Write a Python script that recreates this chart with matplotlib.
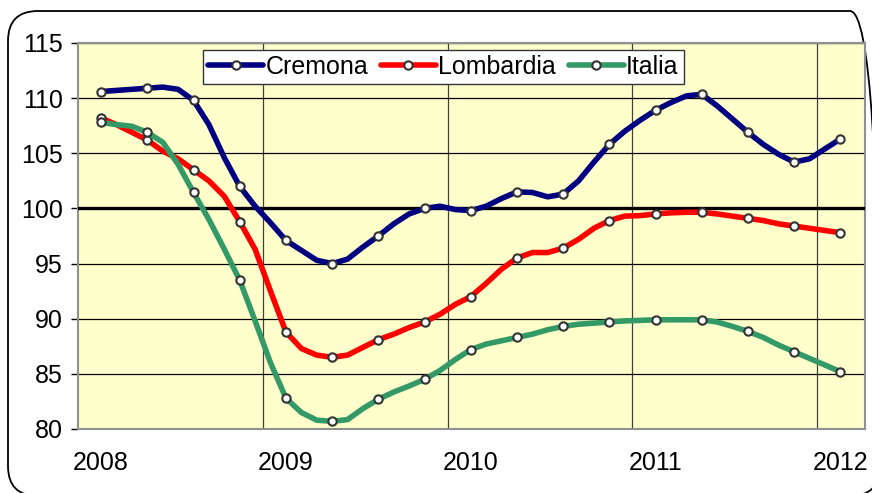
import numpy as np
import matplotlib
matplotlib.use("Agg")
import matplotlib.pyplot as plt
from matplotlib.patches import FancyBboxPatch

# ── data (monthly index, Jan 2008 .. Jan 2012; markers every quarter) ─────────
years = ["2008", "2009", "2010", "2011", "2012"]

cremona = [110.6, 110.7, 110.8, 110.9, 111.0, 110.8, 109.8, 107.6, 104.6, 102.0,
           100.2, 98.7, 97.1, 96.2, 95.3, 95.0, 95.4, 96.5, 97.5, 98.6,
           99.5, 100.0, 100.2, 99.9, 99.8, 100.2, 100.9, 101.5, 101.45, 101.05,
           101.3, 102.5, 104.2, 105.8, 107.0, 108.0, 108.9, 109.6, 110.2, 110.35,
           109.3, 108.1, 106.9, 105.8, 104.9, 104.2, 104.5, 105.4, 106.3]

lombardia = [108.2, 107.6, 106.9, 106.2, 105.2, 104.5, 103.5, 102.5, 101.1, 98.8,
             96.3, 92.5, 88.8, 87.3, 86.7, 86.5, 86.7, 87.4, 88.1, 88.6,
             89.2, 89.7, 90.4, 91.3, 92.0, 93.2, 94.5, 95.5, 96.0, 96.0,
             96.4, 97.2, 98.2, 98.9, 99.3, 99.35, 99.5, 99.6, 99.65, 99.65,
             99.5, 99.3, 99.1, 98.9, 98.6, 98.4, 98.2, 98.0, 97.8]

italia = [107.8, 107.6, 107.45, 106.9, 106.0, 104.0, 101.45, 99.0, 96.3, 93.5,
          89.8, 86.0, 82.8, 81.5, 80.8, 80.7, 80.85, 81.85, 82.7, 83.35,
          83.9, 84.5, 85.3, 86.3, 87.2, 87.7, 88.0, 88.3, 88.6, 89.0,
          89.3, 89.5, 89.6, 89.7, 89.8, 89.85, 89.9, 89.9, 89.9, 89.9,
          89.7, 89.3, 88.85, 88.3, 87.6, 87.0, 86.4, 85.8, 85.2]

SERIES = [
    ("Cremona", cremona, "#000080"),
    ("Lombardia", lombardia, "#FF0000"),
    ("Italia", italia, "#339966"),
]

months = np.arange(len(cremona))

# ── figure ───────────────────────────────────────────────────────────────────
fig = plt.figure(figsize=(8.72, 4.93), dpi=100)
fig.patch.set_facecolor("white")
plt.rcParams["font.family"] = ["Liberation Sans", "DejaVu Sans"]

# outer rounded frame (partly cut by the image edge, as in the original)
frame = FancyBboxPatch((0.08, -0.03), 8.72, 4.85,
                       boxstyle="round,pad=0,rounding_size=0.3",
                       transform=fig.dpi_scale_trans,
                       fc="none", ec="black", lw=1.3, zorder=0)
fig.add_artist(frame)

ax = fig.add_axes([78 / 872, 1 - 429 / 493, (865 - 78) / 872, (429 - 43) / 493])
ax.set_facecolor("#FFFFCC")

for name, vals, col in SERIES:
    ax.plot(months, vals, color=col, lw=4.0, label=name,
            solid_joinstyle="round", solid_capstyle="round",
            marker="o", markevery=3, markersize=6,
            markerfacecolor="white", markeredgecolor="#333333",
            markeredgewidth=1.5, zorder=4)

ax.axhline(100, color="black", lw=2.4, zorder=3)

# axes
ax.set_xlim(-1.5, 49.6)
ax.set_ylim(80, 115)
ax.set_yticks(np.arange(80, 116, 5))
ax.set_xticks(months[::12])
ax.set_xticklabels(years)
ax.set_xticks(np.arange(10.5, 48, 12), minor=True)

ax.grid(axis="y", which="major", color="black", lw=0.9, zorder=1)
ax.grid(axis="x", which="minor", color="#404040", lw=0.9, zorder=1)
ax.set_axisbelow(True)

ax.tick_params(axis="y", length=5, width=1, color="black", pad=6,
               labelsize=18)
ax.tick_params(axis="x", which="both", length=0, pad=16, labelsize=18)

for sp in ax.spines.values():
    sp.set_color("#909090")
    sp.set_linewidth(1.5)

leg = ax.legend(loc="upper left", bbox_to_anchor=(203 / 872, 1 - 50 / 493),
                bbox_transform=fig.transFigure, ncol=3, fontsize=18,
                frameon=True, fancybox=False, framealpha=1,
                edgecolor="#333333", borderaxespad=0, borderpad=0.2,
                handlelength=2.2, handletextpad=0.1, columnspacing=0.5)
leg.get_frame().set_linewidth(1.0)

fig.savefig("out.png", dpi=100, facecolor="white")
